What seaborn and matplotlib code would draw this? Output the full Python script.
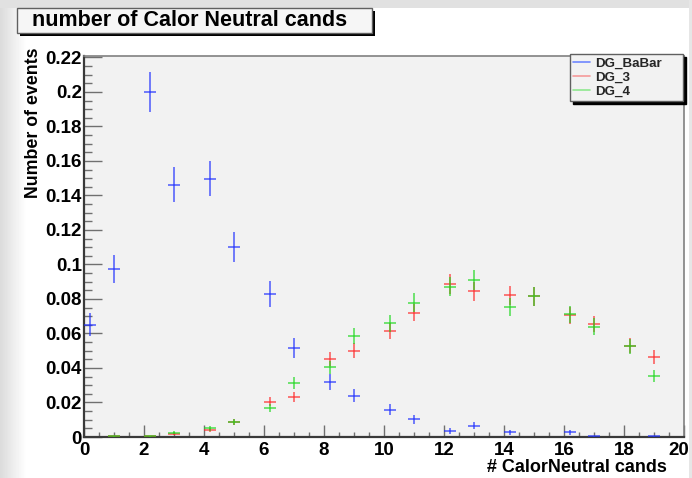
import numpy as np
import pandas as pd
import matplotlib
matplotlib.use("Agg")
import matplotlib.pyplot as plt
from matplotlib.lines import Line2D
from matplotlib.patches import Rectangle
from matplotlib.transforms import ScaledTranslation
from matplotlib.ticker import AutoMinorLocator, FixedLocator, FixedFormatter
import seaborn as sns

# ---- data: bin centres of the multiplicity histogram and normalised contents ----
bin_centers = [0.2, 1.0, 2.2, 3.0, 4.2, 5.0, 6.2, 7.0, 8.2, 9.0,
               10.2, 11.0, 12.2, 13.0, 14.2, 15.0, 16.2, 17.0, 18.2, 19.0]
bin_half_width = 0.2

babar_vals = [0.065, 0.0974, 0.200, 0.1463, 0.1498, 0.110, 0.0827, 0.0516, 0.032, 0.024,
              0.0157, 0.0103, 0.0035, 0.0066, 0.0027, np.nan, 0.0027, 0.0003, np.nan, 0.0003]
babar_errs = [0.0066, 0.008, 0.0116, 0.0101, 0.0099, 0.0086, 0.0075, 0.006, 0.0045, 0.0038,
              0.0032, 0.0026, 0.0015, 0.002, 0.0013, np.nan, 0.0013, 0.0004, np.nan, 0.0004]

dg3_vals = [np.nan, 0.0003, 0.0003, 0.002, 0.004, 0.0085, 0.0205, 0.023, 0.0454, 0.050,
            0.0614, 0.0721, 0.0885, 0.0846, 0.0821, 0.0815, 0.0705, 0.0655, 0.053, 0.0462]
dg3_errs = [np.nan, 0.0003, 0.0003, 0.0008, 0.0012, 0.0018, 0.0027, 0.0029, 0.004, 0.0042,
            0.0047, 0.0051, 0.0057, 0.0055, 0.0054, 0.0054, 0.005, 0.0049, 0.0044, 0.0041]

dg4_vals = [np.nan, 0.0003, 0.0003, 0.0025, 0.005, 0.0085, 0.0166, 0.0311, 0.0404, 0.0586,
            0.0659, 0.0779, 0.0871, 0.091, 0.0754, 0.0815, 0.071, 0.064, 0.0525, 0.0354]
dg4_errs = [np.nan, 0.0003, 0.0003, 0.0009, 0.0013, 0.0018, 0.0024, 0.0034, 0.0038, 0.0046,
            0.0049, 0.0053, 0.0056, 0.0057, 0.0052, 0.0054, 0.005, 0.0048, 0.0044, 0.0036]

samples = ["DG_BaBar", "DG_3", "DG_4"]
sample_colors = ["#1f2fff", "#ff2a2a", "#1ed81e"]
legend_colors = ["#6f86ff", "#f59a9a", "#8fe88f"]

y_ticks = [0, 0.02, 0.04, 0.06, 0.08, 0.1, 0.12, 0.14, 0.16, 0.18, 0.2, 0.22]
y_tick_labels = ["0", "0.02", "0.04", "0.06", "0.08", "0.1", "0.12", "0.14",
                 "0.16", "0.18", "0.2", "0.22"]
x_ticks = [0, 2, 4, 6, 8, 10, 12, 14, 16, 18, 20]
x_tick_labels = [str(v) for v in x_ticks]

title_text = "number of Calor Neutral cands"
x_title = "# CalorNeutral cands"
y_title = "Number of events"

frames = []
for name, vals, errs in zip(samples, [babar_vals, dg3_vals, dg4_vals],
                            [babar_errs, dg3_errs, dg4_errs]):
    frames.append(pd.DataFrame({"x": bin_centers, "y": vals, "err": errs, "sample": name}))
df = pd.concat(frames, ignore_index=True)

# ---- style ----
sns.set_theme(style="ticks")
plt.rcParams["font.family"] = ["Liberation Sans", "DejaVu Sans"]
plt.rcParams["font.weight"] = "bold"
palette = dict(zip(samples, sns.color_palette(sample_colors)))

W, H = 692, 478
fig = plt.figure(figsize=(W / 100, H / 100), dpi=100)
fig.patch.set_facecolor("white")

# canvas surround: grey strip on the top and a soft gradient on the left
bg = fig.add_axes([0, 0, 1, 1], zorder=-10)
grad = np.ones((H, W))
xs = np.arange(W)
left = np.clip(xs / 26.0, 0, 1)
grad[:, :] = 0.86 + 0.14 * left[None, :]
grad[:8, :] = 0.88
grad[:, W - 3:] = 0.9
bg.imshow(grad, cmap="gray", vmin=0, vmax=1, aspect="auto", interpolation="bilinear")
bg.set_axis_off()


def px(x0, y0, w, h):
    return [x0 / W, 1 - (y0 + h) / H, w / W, h / H]


ax = fig.add_axes(px(84, 56, 600, 381))
ax.set_facecolor("#f2f2f2")

for name in samples:
    d = df[df["sample"] == name]
    ax.errorbar(d["x"], d["y"], yerr=d["err"], xerr=bin_half_width, fmt="none",
                ecolor=palette[name], elinewidth=1.2, capsize=0, alpha=0.72, zorder=3)

ax.set_xlim(0, 20)
ax.set_ylim(0, 0.2208)

ax.yaxis.set_major_locator(FixedLocator(y_ticks))
ax.yaxis.set_major_formatter(FixedFormatter(y_tick_labels))
ax.xaxis.set_major_locator(FixedLocator(x_ticks))
ax.xaxis.set_major_formatter(FixedFormatter(x_tick_labels))
ax.xaxis.set_minor_locator(AutoMinorLocator(4))
ax.yaxis.set_minor_locator(AutoMinorLocator(4))

ax.tick_params(axis="y", which="major", direction="in", length=13, width=1.0,
               color="#707070", pad=1.5, labelsize=13.5, labelcolor="black")
ax.tick_params(axis="y", which="minor", direction="in", length=5.8, width=1.0, color="#707070")
ax.tick_params(axis="x", which="major", direction="in", length=8.6, width=1.0,
               color="#707070", pad=3.5, labelsize=13.5, labelcolor="black")
ax.tick_params(axis="x", which="minor", direction="in", length=3.6, width=1.0, color="#707070")
for lab in ax.get_xticklabels() + ax.get_yticklabels():
    lab.set_fontweight("bold")

# keep the last x label inside the canvas
fig.canvas.draw()
last = ax.get_xticklabels()[-1]
last.set_transform(last.get_transform() + ScaledTranslation(-5 / 100, 0, fig.dpi_scale_trans))

for s in ["left", "bottom"]:
    ax.spines[s].set_color("#3a3a3a")
    ax.spines[s].set_linewidth(1.6)
for s in ["top", "right"]:
    ax.spines[s].set_color("#808080")
    ax.spines[s].set_linewidth(1.2)

ax.set_xlabel("")
ax.set_ylabel("")
fig.text(667 / W, 1 - 467 / H, x_title, ha="right", va="center",
         fontsize=13, fontweight="bold", color="black")
fig.text(34 / W, 1 - 47 / H, y_title, ha="center", va="top", rotation=90,
         fontsize=12.8, fontweight="bold", color="black")

# title pave with drop shadow
fig.patches.append(Rectangle((20 / W, 1 - 36 / H), 355 / W, 25 / H, transform=fig.transFigure,
                             facecolor="black", edgecolor="none", zorder=5))
fig.patches.append(Rectangle((17 / W, 1 - 33 / H), 355 / W, 25 / H, transform=fig.transFigure,
                             facecolor="#f6f6f6", edgecolor="#606060", linewidth=1.0, zorder=6))
fig.text(32 / W, 1 - 21 / H, title_text, ha="left", va="center",
         fontsize=15.5, fontweight="bold", color="black", zorder=7)

# legend
handles = [Line2D([], [], color=c, lw=1.2) for c in legend_colors]
leg = ax.legend(handles, samples, loc="upper left", mode="expand",
                bbox_to_anchor=(570 / W, 1 - 102 / H, 113 / W, 48 / H),
                bbox_transform=fig.transFigure,
                borderaxespad=0, frameon=True, fancybox=False,
                shadow={"color": "black", "alpha": 1.0},
                prop={"weight": "bold", "size": 9.6},
                handlelength=1.25, handletextpad=0.4, labelspacing=0.14,
                borderpad=0.24)
leg.get_frame().set_facecolor("#f2f2f2")
leg.get_frame().set_edgecolor("#606060")
leg.get_frame().set_linewidth(1.0)
leg.set_zorder(10)

fig.savefig("out.png", dpi=100, facecolor=fig.get_facecolor())
